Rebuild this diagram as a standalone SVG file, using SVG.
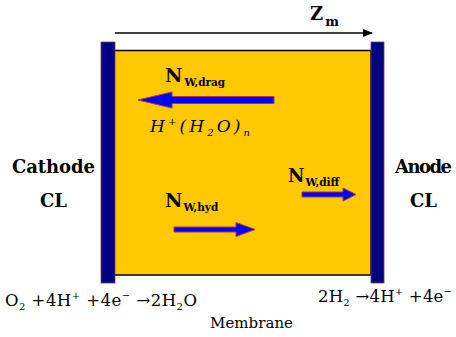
<svg xmlns="http://www.w3.org/2000/svg" width="456" height="337" viewBox="0 0 456 337">
<style>
text{font-family:"DejaVu Serif","Liberation Serif",serif;fill:#000}
.b{font-weight:bold}
.flux{fill:#0000FF;stroke:#B03050;stroke-width:1}
.bar{fill:#000080;stroke:#704060;stroke-width:0.8}
</style>
<defs>
<marker id="ah" viewBox="0 0 10 10" refX="9" refY="5" markerWidth="10" markerHeight="10" markerUnits="userSpaceOnUse" orient="auto">
<path d="M0,1 L10,5 L0,9 Z" fill="#000"/>
</marker>
</defs>
<rect width="456" height="337" fill="#fff"/>
<g id="membrane">
<rect x="114" y="50.5" width="257" height="224.5" fill="#FFC800" stroke="#000" stroke-width="1.5"/>
</g>
<g id="cathode-bar"><rect x="101" y="42" width="14" height="241" class="bar"/></g>
<g id="anode-bar"><rect x="371" y="42" width="13" height="241" class="bar"/></g>
<g id="connectors">
<line x1="115" y1="33" x2="372" y2="33" stroke="#000" stroke-width="1.3" marker-end="url(#ah)"/>
</g>
<g id="zm"><text class="b" x="310" y="20" font-size="18">Z<tspan font-size="13" dx="2" dy="6">m</tspan></text></g>
<g id="drag">
<text class="b" x="165" y="82" font-size="19">N<tspan font-size="10.5" dx="2" dy="4">W,drag</tspan></text>
<path class="flux" d="M274,96.5 L172,96.5 L172,92 L138,100 L172,108 L172,103.5 L274,103.5 Z"/>
<text x="150" y="132" font-size="17" font-style="italic" textLength="100" lengthAdjust="spacing">H<tspan font-size="10" dy="-7">+</tspan><tspan dy="7">(H</tspan><tspan font-size="10" dy="4">2</tspan><tspan dy="-4">O)</tspan><tspan font-size="10" dy="4">n</tspan></text>
</g>
<g id="diff">
<text class="b" x="288" y="182" font-size="18">N<tspan font-size="10.5" dx="1" dy="4">W,diff</tspan></text>
<path class="flux" d="M302,192 L343,192 L343,188 L356,194.5 L343,201 L343,197 L302,197 Z"/>
</g>
<g id="hyd">
<text class="b" x="165" y="207" font-size="19">N<tspan font-size="10.5" dx="1" dy="4">W,hyd</tspan></text>
<path class="flux" d="M174,227 L236,227 L236,222.5 L255,229.5 L236,236.5 L236,232 L174,232 Z"/>
</g>
<g id="cathode">
<text class="b" x="53.5" y="173" font-size="18" text-anchor="middle" textLength="83">Cathode</text>
<text class="b" x="53.5" y="207" font-size="18" text-anchor="middle">CL</text>
</g>
<g id="anode">
<text class="b" x="423.5" y="173" font-size="18" text-anchor="middle" textLength="57">Anode</text>
<text class="b" x="423.5" y="207" font-size="18" text-anchor="middle">CL</text>
</g>
<g id="reactions">
<text x="5" y="306" font-size="16.5" textLength="192">O<tspan font-size="10" dy="4">2</tspan><tspan dy="-4"> +4H</tspan><tspan font-size="10" dy="-7">+</tspan><tspan dy="7"> +4e</tspan><tspan font-size="10" dy="-7">−</tspan><tspan dy="7"> →2H</tspan><tspan font-size="10" dy="4">2</tspan><tspan dy="-4">O</tspan></text>
<text x="318" y="302" font-size="16.5" textLength="134">2H<tspan font-size="10" dy="4">2</tspan><tspan dy="-4"> →4H</tspan><tspan font-size="10" dy="-7">+</tspan><tspan dy="7"> +4e</tspan><tspan font-size="10" dy="-7">−</tspan></text>
<text x="210" y="328" font-size="15" textLength="83">Membrane</text>
</g>
</svg>
